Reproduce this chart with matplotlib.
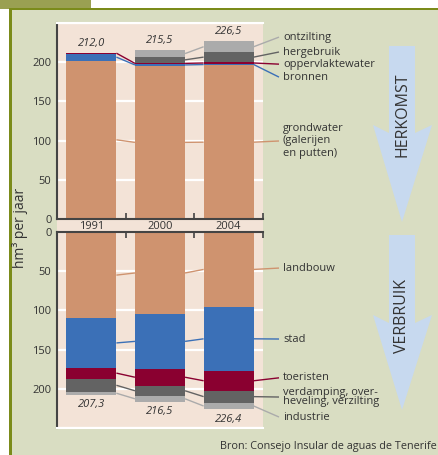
import matplotlib
matplotlib.use("Agg")
import matplotlib.pyplot as plt
from matplotlib.patches import Rectangle, Polygon

plt.rcParams['font.family'] = ['Open Sans', 'DejaVu Sans']

# ---------------- data ----------------
years = ["1991", "2000", "2004"]

# Herkomst (supply), hm3 per jaar
supply_names = ["grondwater\n(galerijen\nen putten)", "bronnen", "oppervlaktewater", "hergebruik", "ontzilting"]
grondwater = [202.0, 195.5, 196.0]
bronnen = [9.0, 2.0, 2.0]
oppervlaktewater = [1.0, 2.0, 2.0]
hergebruik = [0.0, 7.0, 13.0]
ontzilting = [0.0, 9.0, 13.5]
supply_totals = ["212,0", "215,5", "226,5"]

# Verbruik (use), hm3 per jaar
use_names = ["landbouw", "stad", "toeristen", "verdamping, over-\nheveling, verzilting", "industrie"]
landbouw = [110.0, 104.5, 95.5]
stad = [63.0, 70.0, 81.5]
toeristen = [14.0, 21.5, 25.5]
verdamping = [17.0, 13.0, 15.0]
industrie = [3.3, 7.5, 8.9]
use_totals = ["207,3", "216,5", "226,4"]

yticks = [0, 50, 100, 150, 200]

# ---------------- style ----------------
W, H = 439, 455
C_PEACH = "#cf936f"
C_BLUE = "#3b70b7"
C_RED = "#8a0030"
C_DGRAY = "#636363"
C_LGRAY = "#ababab"
BG_GREEN = "#d9ddc2"
BG_PLOT = "#f3e3d7"
TXT = "#333333"

fig = plt.figure(figsize=(W / 100, H / 100), dpi=100)
fig.patch.set_facecolor("white")

def fx(px):
    return px / W

def fy(py):
    return 1 - py / H

# background axes in pixel coordinates
bg = fig.add_axes([0, 0, 1, 1])
bg.set_xlim(0, W)
bg.set_ylim(H, 0)
bg.axis("off")
bg.add_patch(Rectangle((0, 0), 91, 8.5, color="#9aa052", lw=0))
bg.add_patch(Rectangle((12, 10), W - 12, H - 10, color=BG_GREEN, lw=0))
bg.add_patch(Rectangle((9.5, 8), W - 9.5, 2.2, color="#7b8b1a", lw=0))
bg.add_patch(Rectangle((9.5, 8), 2.6, H - 8, color="#7b8b1a", lw=0))
bg.add_patch(Rectangle((57, 219), 206, 13, color=BG_PLOT, lw=0))

def arrow(top, notch, wing, tip):
    pts = [(389, top), (415, top), (415, notch), (432, wing), (402, tip),
           (373, wing), (389, notch)]
    bg.add_patch(Polygon(pts, closed=True, color="#c7d9ef", lw=0))

arrow(46, 133, 125, 222)
arrow(235, 323, 315, 410)
bg.text(402.5, 115, "HERKOMST", rotation=90, ha="center", va="center",
        fontsize=11.5, color=TXT)
bg.text(402.5, 316, "VERBRUIK", rotation=90, ha="center", va="center",
        fontsize=11.5, color=TXT)
bg.text(437, 447, "Bron: Consejo Insular de aguas de Tenerife", ha="right",
        va="center", fontsize=7.8, color=TXT)
bg.text(20, 228, "hm³ per jaar", rotation=90, ha="center", va="center",
        fontsize=10, color=TXT)

BAR_W = 0.73
XL = (-0.5, 2.5)
LBL_LINE_X = -0.5 + (279 - 57) / (206 / 3)
LBL_TXT_X = -0.5 + (283 - 57) / (206 / 3)

def style_axes(ax, inverted):
    ax.set_facecolor(BG_PLOT)
    ax.set_xlim(*XL)
    if inverted:
        ax.set_ylim(250, 0)
    else:
        ax.set_ylim(0, 250)
    ax.set_yticks(yticks)
    ax.set_yticklabels([str(t) for t in yticks])
    ax.tick_params(axis="y", length=0, pad=4, labelsize=8, labelcolor=TXT)
    ax.set_xticks([0.5, 1.5, 2.5])
    ax.set_xticklabels([])
    ax.tick_params(axis="x", direction="in", length=4, width=1.2, color="#444444",
                   bottom=not inverted, top=inverted)
    for g in [50, 100, 150, 200, 250]:
        ax.axhline(g, color="white", lw=1.6, zorder=0.5)
    for s in ax.spines.values():
        s.set_color("white")
        s.set_linewidth(1.5)
    ax.spines["right"].set_visible(False)
    ax.spines["left"].set_color("#444444")
    if inverted:
        ax.spines["top"].set_color("#444444")
    else:
        ax.spines["bottom"].set_color("#444444")

def stacked(ax, series, colors, names, label_ys, totals, inverted, lspacing):
    x = list(range(len(years)))
    bottoms = [0.0] * len(years)
    mids_all = []
    for vals, col in zip(series, colors):
        ax.bar(x, vals, BAR_W, bottom=bottoms, color=col, lw=0, zorder=2)
        mids = [b + v / 2 for b, v in zip(bottoms, vals)]
        mids_all.append((vals, mids))
        bottoms = [b + v for b, v in zip(bottoms, vals)]
    for (vals, mids), col, name, ly, ls in zip(mids_all, colors, names, label_ys, lspacing):
        lc = col
        for i in range(len(years) - 1):
            if vals[i] > 0 and vals[i + 1] > 0:
                ax.plot([i + BAR_W / 2, i + 1 - BAR_W / 2], [mids[i], mids[i + 1]],
                        color=lc, lw=1.0, zorder=1.5, solid_capstyle="butt")
        n = len(years) - 1
        ax.plot([n + BAR_W / 2, LBL_LINE_X], [mids[n], ly], color=lc, lw=1.0,
                clip_on=False, zorder=1.5, solid_capstyle="butt")
        ax.text(LBL_TXT_X, ly, name, ha="left", va="center", fontsize=8,
                color=TXT, linespacing=ls, clip_on=False)
    for i, t in enumerate(totals):
        if inverted:
            ax.annotate(t, (i, bottoms[i]), xytext=(0, -3), textcoords="offset points",
                        ha="center", va="top", fontsize=8, style="italic", color=TXT)
        else:
            ax.annotate(t, (i, bottoms[i]), xytext=(0, 3), textcoords="offset points",
                        ha="center", va="bottom", fontsize=8, style="italic", color=TXT)

# ---------------- top chart (herkomst) ----------------
ax1 = fig.add_axes([fx(57), fy(219), fx(206), 196 / H])
style_axes(ax1, inverted=False)
stacked(ax1, [grondwater, bronnen, oppervlaktewater, hergebruik, ontzilting],
        [C_PEACH, C_BLUE, C_RED, C_DGRAY, C_LGRAY],
        supply_names, [99.5, 181, 197.5, 213, 232], supply_totals, False,
        [1.2, 1, 1, 1, 1])
for i, y in enumerate(years):
    ax1.text(i, -9, y, ha="center", va="center", fontsize=8, color=TXT, clip_on=False)

# ---------------- bottom chart (verbruik) ----------------
ax2 = fig.add_axes([fx(57), fy(428), fx(206), 196 / H])
style_axes(ax2, inverted=True)
stacked(ax2, [landbouw, stad, toeristen, verdamping, industrie],
        [C_PEACH, C_BLUE, C_RED, C_DGRAY, C_LGRAY],
        use_names, [46, 136.5, 186, 210.5, 236], use_totals, True,
        [1, 1, 1, 0.85, 1])

fig.savefig("out.png", dpi=100)
